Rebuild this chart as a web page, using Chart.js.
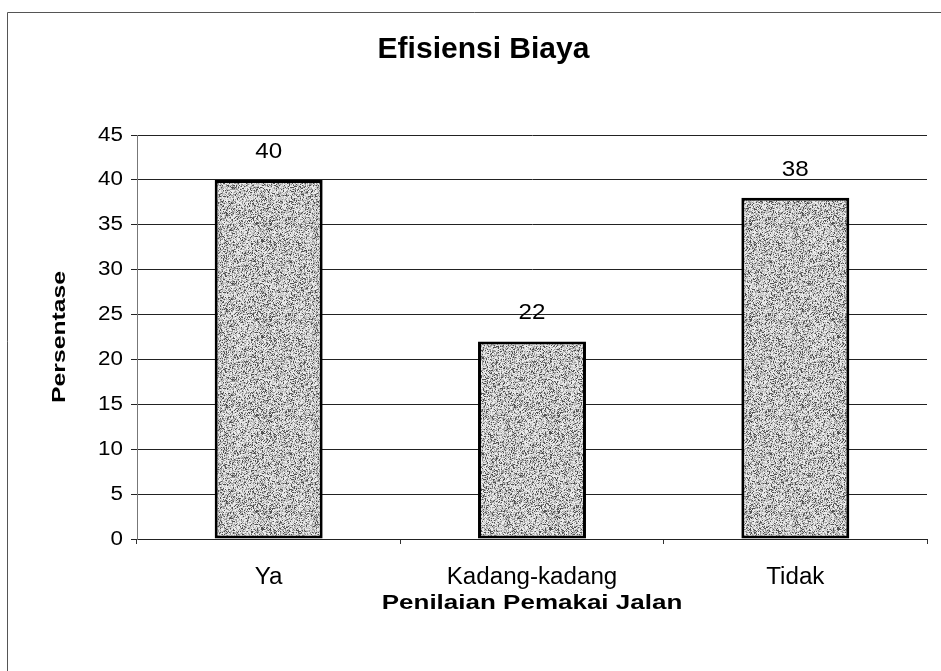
<!DOCTYPE html>
<html>
<head>
<meta charset="utf-8">
<script src="https://cdn.jsdelivr.net/npm/chart.js@4/dist/chart.umd.min.js"></script>
<style>
  html, body { margin: 0; padding: 0; background: #fff; }
  #wrap { width: 941px; height: 671px; position: relative; }
</style>
</head>
<body>
<div id="wrap"><canvas id="c" width="941" height="671"></canvas></div>
<script>
// Survey responses: "Efisiensi Biaya" by road-user assessment
const categories = ['Ya', 'Kadang-kadang', 'Tidak'];
const persentase = [40, 22, 38];
const yTicks = [0, 5, 10, 15, 20, 25, 30, 35, 40, 45];

const FONT = '"Liberation Sans", Arial, sans-serif';

// Horizontal widening per text style (keyed on the canvas font string)
function stretchFor(font) {
  if (/bold 30px/.test(font)) return 1.0;   // chart title
  if (/bold/.test(font)) return 1.3;        // axis titles
  if (/23px/.test(font)) return 1.05;       // category labels
  if (/22px/.test(font)) return 1.1;        // value labels
  if (/20px/.test(font)) return 1.12;       // y tick labels
  return 1.0;
}

// Speckled grey fill for the bars (deterministic stipple)
function makeStipple() {
  const size = 96;
  const cv = document.createElement('canvas');
  cv.width = size; cv.height = size;
  const g = cv.getContext('2d');
  const img = g.createImageData(size, size);
  let s = 1234567;
  const next = () => { s = (s * 1103515245 + 12345) & 0x7fffffff; return s / 0x7fffffff; };
  for (let i = 0; i < size * size; i++) {
    const r = next();
    let v;
    if (r < 0.15) v = 80;
    else if (r < 0.35) v = 150;
    else if (r < 0.65) v = 200;
    else v = 235;
    img.data[i * 4] = v; img.data[i * 4 + 1] = v; img.data[i * 4 + 2] = v; img.data[i * 4 + 3] = 255;
  }
  g.putImageData(img, 0, 0);
  return g.createPattern(cv, 'repeat');
}

// Draws text widened around its anchor point
const wideText = {
  id: 'wideText',
  beforeInit(chart) {
    const ctx = chart.ctx;
    const orig = ctx.fillText.bind(ctx);
    ctx.fillText = function (text, x, y) {
      const k = stretchFor(ctx.font);
      ctx.save();
      ctx.translate(x, y);
      ctx.scale(k, 1);
      orig(text, 0, 0);
      ctx.restore();
    };
  }
};

// Outer frame of the chart area
const framePlugin = {
  id: 'frame',
  beforeDraw(chart) {
    const ctx = chart.ctx;
    ctx.save();
    ctx.fillStyle = '#fff';
    ctx.fillRect(0, 0, chart.width, chart.height);
    ctx.strokeStyle = '#555';
    ctx.lineWidth = 1;
    ctx.beginPath();
    ctx.moveTo(7.5, chart.height);
    ctx.lineTo(7.5, 12.5);
    ctx.lineTo(chart.width, 12.5);
    ctx.stroke();
    ctx.restore();
  }
};

// Value labels above each bar
const valueLabels = {
  id: 'valueLabels',
  afterDatasetsDraw(chart) {
    const ctx = chart.ctx;
    const meta = chart.getDatasetMeta(0);
    const data = chart.data.datasets[0].data;
    ctx.save();
    ctx.font = '22px ' + FONT;
    ctx.fillStyle = '#000';
    ctx.textAlign = 'center';
    ctx.textBaseline = 'alphabetic';
    meta.data.forEach((bar, i) => {
      ctx.fillText(String(data[i]), bar.x, bar.y - 22);
    });
    ctx.restore();
  }
};

new Chart(document.getElementById('c'), {
  type: 'bar',
  data: {
    labels: categories,
    datasets: [{
      data: persentase,
      backgroundColor: makeStipple(),
      borderColor: '#000',
      borderWidth: 3,
      borderSkipped: false,
      barPercentage: 0.41,
      categoryPercentage: 1.0
    }]
  },
  options: {
    responsive: false,
    animation: false,
    devicePixelRatio: 1,
    layout: { padding: { left: 40, right: 14, top: 0, bottom: 0 } },
    plugins: {
      legend: { display: false },
      tooltip: { enabled: false },
      title: {
        display: true,
        text: 'Efisiensi Biaya',
        color: '#000',
        font: { family: FONT, size: 30, weight: 'bold' },
        padding: { top: 32, bottom: 67 }
      }
    },
    scales: {
      x: {
        offset: true,
        afterFit(scale) { scale.height = 132; },
        grid: {
          offset: true,
          drawOnChartArea: false,
          drawTicks: true,
          tickLength: 5,
          color: '#333'
        },
        border: { display: true, color: '#222', width: 1 },
        ticks: {
          color: '#000',
          padding: 20,
          font: { family: FONT, size: 23 }
        },
        title: {
          display: true,
          text: 'Penilaian Pemakai Jalan',
          color: '#000',
          font: { family: FONT, size: 20, weight: 'bold' },
          padding: { top: 4, bottom: 56 }
        }
      },
      y: {
        min: 0,
        max: 45,
        afterFit(scale) { scale.width = 97; },
        afterBuildTicks(scale) { scale.ticks = yTicks.map(v => ({ value: v })); },
        grid: {
          color: '#222',
          lineWidth: 1,
          drawTicks: true,
          tickLength: 6
        },
        border: { display: true, color: '#777', width: 1 },
        ticks: {
          color: '#000',
          padding: 8,
          font: { family: FONT, size: 20 }
        },
        title: {
          display: true,
          text: 'Persentase',
          color: '#000',
          font: { family: FONT, size: 19, weight: 'bold' },
          padding: { top: 8, bottom: 4 }
        }
      }
    }
  },
  plugins: [wideText, framePlugin, valueLabels]
});
</script>
</body>
</html>
